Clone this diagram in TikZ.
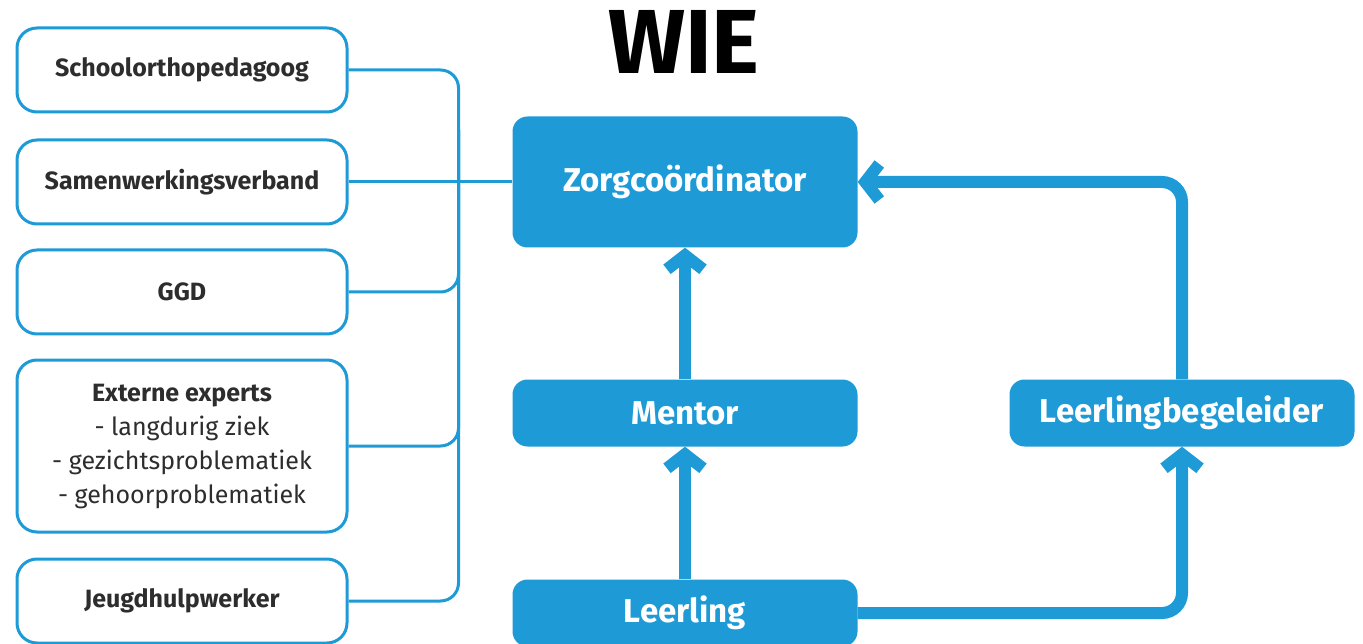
\documentclass[tikz,border=0pt]{standalone}
\usepackage{fontspec}
\setmainfont{Fira Sans}
\usetikzlibrary{arrows.meta}
\definecolor{wieblue}{RGB}{30,154,214}
\definecolor{wiegrey}{RGB}{45,45,45}
\tikzstyle{extern}=[rectangle,draw=wieblue,line width=3pt,rounded corners=20pt,minimum width=330pt,minimum height=84pt,text=wiegrey,font=\fontsize{25}{34}\selectfont,align=center,fill=white]
\tikzstyle{rol}=[rectangle,fill=wieblue,rounded corners=15pt,minimum width=345pt,minimum height=67pt,text=white,font=\fontsize{33}{38}\selectfont\bfseries]
\tikzstyle{link}=[wieblue,line width=3pt,rounded corners=18pt]
\tikzstyle{flow}=[wieblue,line width=12pt,rounded corners=20pt,-{Straight Barb[length=14pt,width=36pt]}]

\begin{document}
\begin{tikzpicture}[x=1pt,y=-1pt]
	\useasboundingbox (0,0) rectangle (1363,644);
	\node[font=\fontsize{91}{91}\selectfont\bfseries,text=black] (wie) at (684,42) {WIE};

	% externe partijen
	\node[extern] (school) at (182,70) {\bfseries Schoolorthopedagoog};
	\node[extern] (samen) at (182,182) {\bfseries Samenwerkingsverband};
	\node[extern] (ggd) at (182,292) {\bfseries GGD};
	\node[extern,minimum height=172pt] (expert) at (182,446) {\textbf{Externe experts}\\- langdurig ziek\\- gezichtsproblematiek\\- gehoorproblematiek};
	\node[extern] (jeugd) at (182,601) {\bfseries Jeugdhulpwerker};

	% rollen
	\node[rol,minimum height=131pt] (zorg) at (685,182) {Zorgcoördinator};
	\node[rol] (mentor) at (685,413) {Mentor};
	\node[rol] (leerling) at (685,613) {Leerling};
	\node[rol] (begeleider) at (1182,413) {Leerlingbegeleider};

	% dunne lijnen
	\draw[link] (school.east) -- ++(110,0) -- ++(0,60) coordinate (bus) |- (jeugd.east);
	\draw[link] (ggd.east) -| (bus);
	\draw[link] (expert.east) -| (bus);
	\draw[link] (samen.east) -- (zorg.west);

	% pijlen
	\draw[flow] (mentor.north) -- (zorg.south);
	\draw[flow] (leerling.north) -- (mentor.south);
	\draw[flow] (begeleider.north) |- (zorg.east);
	\draw[flow] (leerling.east) -| (begeleider.south);
\end{tikzpicture}
\end{document}
